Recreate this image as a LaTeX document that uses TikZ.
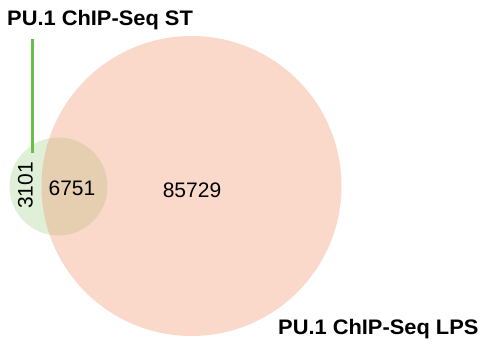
\documentclass[tikz,border=0pt]{standalone}
\usepackage{fontspec}
\setmainfont{Liberation Sans}
\newfontfamily\setfont[FakeStretch=1.04]{Liberation Sans}
\usepackage{tikz}
\definecolor{stgreen}{RGB}{224,239,216}
\definecolor{lpspink}{RGB}{250,217,202}
\definecolor{bothtan}{RGB}{229,207,176}
\definecolor{linegreen}{RGB}{104,190,70}

\begin{document}
\begin{tikzpicture}[x=1pt,y=-1pt,
                    setlabel/.style={anchor=base west,inner sep=0pt,
                      font=\setfont\fontsize{21}{24}\selectfont\bfseries},
                    count/.style={inner sep=0pt,font=\fontsize{21}{24}\selectfont}]

	\useasboundingbox (0,0) rectangle (482,350);

	% the two sets
	\node[circle,fill=lpspink,minimum size=300pt,inner sep=0pt] (lps) at (191.5,186) {};
	\node[circle,fill=stgreen,minimum size=98pt,inner sep=0pt] (st) at (58.5,186.5) {};
	\begin{scope}
		\clip (st.center) circle (49);
		\fill[bothtan] (lps.center) circle (150);
	\end{scope}

	% counts
	\node[count,rotate=90] (onlyst) at (25.5,185.5) {3101};
	\node[count] (both) at (72,188.5) {6751};
	\node[count] (onlylps) at (192,190.5) {85729};

	% labels
	\node[setlabel] (stname) at (7,26) {PU.1 ChIP-Seq ST};
	\node[setlabel] (lpsname) at (278,334) {PU.1 ChIP-Seq LPS};
	\coordinate (pintop) at (32,39);
	\coordinate (pinend) at (32,153);
	\draw[linegreen,line width=3pt] (pintop) -- (pinend);

\end{tikzpicture}
\end{document}
